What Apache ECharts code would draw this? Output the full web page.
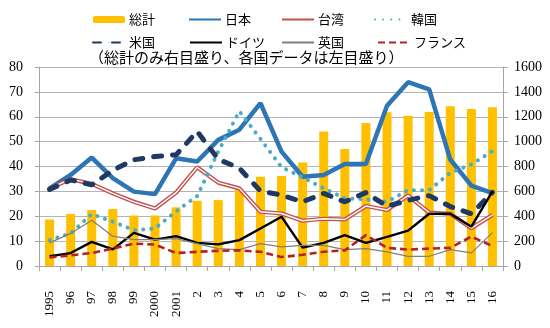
<!DOCTYPE html>
<html>
<head>
<meta charset="utf-8">
<script src="https://cdn.jsdelivr.net/npm/echarts@6/dist/echarts.min.js"></script>
<style>
html,body{margin:0;padding:0;background:#fff;}
#c{width:550px;height:328px;}
</style>
</head>
<body>
<div id="c"></div>
<script>
const years = ['1995','96','97','98','99','2000','2001','2','3','4','5','6','7','8','9','10','11','12','13','14','15','16'];
const total = [374,418,450,458,406,406,472,524,530,612,718,724,832,1082,940,1150,1236,1208,1238,1284,1262,1276];
const japan = [31.2,36.6,43.6,35.3,29.9,28.9,43.3,42,50.7,54.8,65.5,46,35.9,36.6,41,41,64.4,73.9,71,42.8,32.3,29.3];
const taiwan = [31.2,34.9,33,29.2,25.8,23.1,29.5,39.7,33.5,31.2,21.8,21.1,18.2,19,18.7,24.1,22.5,28.3,21.5,21,15.2,20.5];
const korea = [10.4,13.1,20.9,17.8,14.4,15.1,22,28.1,46,62.2,51.1,39.7,35.7,31.2,27.2,26.8,25.8,30.5,30.5,37.5,40.8,46.2];
const usa = [30.8,34.6,32.6,38.5,42.7,44,44.7,54.1,42.9,39.3,30.1,28.5,25.8,29.2,25.8,29.5,24,26.4,28.3,23.9,21,29.6];
const germany = [3.9,5.2,9.7,6.7,13.3,10.6,12,9.3,8.7,10.4,15.1,19.8,7.4,9.3,12.4,9.3,11.7,14.2,21,21,15.8,30];
const uk = [9.3,13.1,18.4,12,10.6,10.6,11,9,7,6.6,9,7.7,8.3,8.3,6.6,7,5.7,3.9,3.9,6.6,5.3,13.4];
const france = [3.4,4.3,5.2,7,9,8.6,5.2,5.7,6.1,6.3,5.7,3.6,4.5,5.7,6.3,12.4,7.3,6.6,7,7.3,11.8,8];
const leftTicks = {min:0, max:80, interval:10};
const rightTicks = {min:0, max:1600, interval:200};

const CJK = '"Noto Sans CJK JP", sans-serif';
const SERIF = '"Liberation Serif", "DejaVu Serif", serif';

function lg(name, left, top, extra) {
  return Object.assign({
    data: [name], left: left, top: top, padding: 0,
    itemWidth: 32, itemHeight: 1, itemGap: 0,
    textStyle: {fontFamily: CJK, fontSize: 13, color: '#000', padding: [0,0,0,-1]},
    selectedMode: false
  }, extra || {});
}

const chart = echarts.init(document.getElementById('c'), null, {renderer: 'canvas'});
chart.setOption({
  animation: false,
  backgroundColor: '#fff',
  legend: [
    lg('総計', 93, 13, {itemHeight: 7}),
    lg('日本', 188, 13),
    lg('台湾', 281, 13),
    lg('台湾_in', 281, 13, {formatter: function(){return '';}}),
    lg('韓国', 374, 13),
    lg('米国', 92, 36),
    lg('ドイツ', 189, 36),
    lg('英国', 281, 36),
    lg('フランス', 377, 36)
  ],
  graphic: [{
    type: 'text', left: 89, top: 50,
    style: {text: '（総計のみ右目盛り、各国データは左目盛り）', font: '15px ' + CJK, fill: '#000'}
  }],
  grid: {left: 39, right: 47, top: 67, bottom: 62, containLabel: false},
  xAxis: {
    type: 'category', data: years, boundaryGap: true,
    axisLine: {lineStyle: {color: '#A6A6A6', width: 1}},
    axisTick: {show: true, length: 5, lineStyle: {color: '#A6A6A6'}},
    axisLabel: {rotate: 90, margin: 25, fontFamily: SERIF, fontSize: 13, color: '#000', interval: 0}
  },
  yAxis: [{
    type: 'value', min: leftTicks.min, max: leftTicks.max, interval: leftTicks.interval,
    axisLine: {show: true, lineStyle: {color: '#A6A6A6'}},
    axisTick: {show: true, length: 4, lineStyle: {color: '#A6A6A6'}},
    splitLine: {lineStyle: {color: '#B4B4B4', width: 1}},
    axisLabel: {fontFamily: SERIF, fontSize: 14, color: '#000', margin: 16}
  }, {
    type: 'value', position: 'right', min: rightTicks.min, max: rightTicks.max, interval: rightTicks.interval,
    axisLine: {show: true, lineStyle: {color: '#A6A6A6'}},
    axisTick: {show: true, length: 5, lineStyle: {color: '#A6A6A6'}},
    splitLine: {show: false},
    axisLabel: {fontFamily: SERIF, fontSize: 14, color: '#000', margin: 11, formatter: function(v){return String(v);}}
  }],
  series: [
    {name: '総計', type: 'bar', yAxisIndex: 1, data: total, barWidth: 9, itemStyle: {color: '#FFC000'}, z: 1},
    {name: '日本', type: 'line', data: japan, symbol: 'none', lineStyle: {color: '#2E75B6', width: 4.5}, itemStyle: {color: '#2E75B6'}, z: 3},
    {name: '台湾', type: 'line', data: taiwan, symbol: 'none', lineStyle: {color: '#C0504D', width: 4.2}, itemStyle: {color: '#C0504D'}, z: 3},
    {name: '台湾_in', type: 'line', data: taiwan, symbol: 'none', lineStyle: {color: '#FFFFFF', width: 1.4}, itemStyle: {color: '#FFFFFF'}, z: 3},
    {name: '韓国', type: 'line', data: korea, symbol: 'none', lineStyle: {color: '#4BACC6', width: 4, type: [0.1, 8], cap: 'round'}, itemStyle: {color: '#4BACC6'}, z: 3},
    {name: '米国', type: 'line', data: usa, symbol: 'none', lineStyle: {color: '#1F3864', width: 5, type: [8, 11], cap: 'round'}, itemStyle: {color: '#1F3864'}, z: 3},
    {name: 'ドイツ', type: 'line', data: germany, symbol: 'none', lineStyle: {color: '#000000', width: 2.4}, itemStyle: {color: '#000000'}, z: 3},
    {name: '英国', type: 'line', data: uk, symbol: 'none', lineStyle: {color: '#7F7F7F', width: 1.2}, itemStyle: {color: '#7F7F7F'}, z: 3},
    {name: 'フランス', type: 'line', data: france, symbol: 'none', lineStyle: {color: '#B22222', width: 2.6, type: [7, 4]}, itemStyle: {color: '#B22222'}, z: 3}
  ]
});
</script>
</body>
</html>
